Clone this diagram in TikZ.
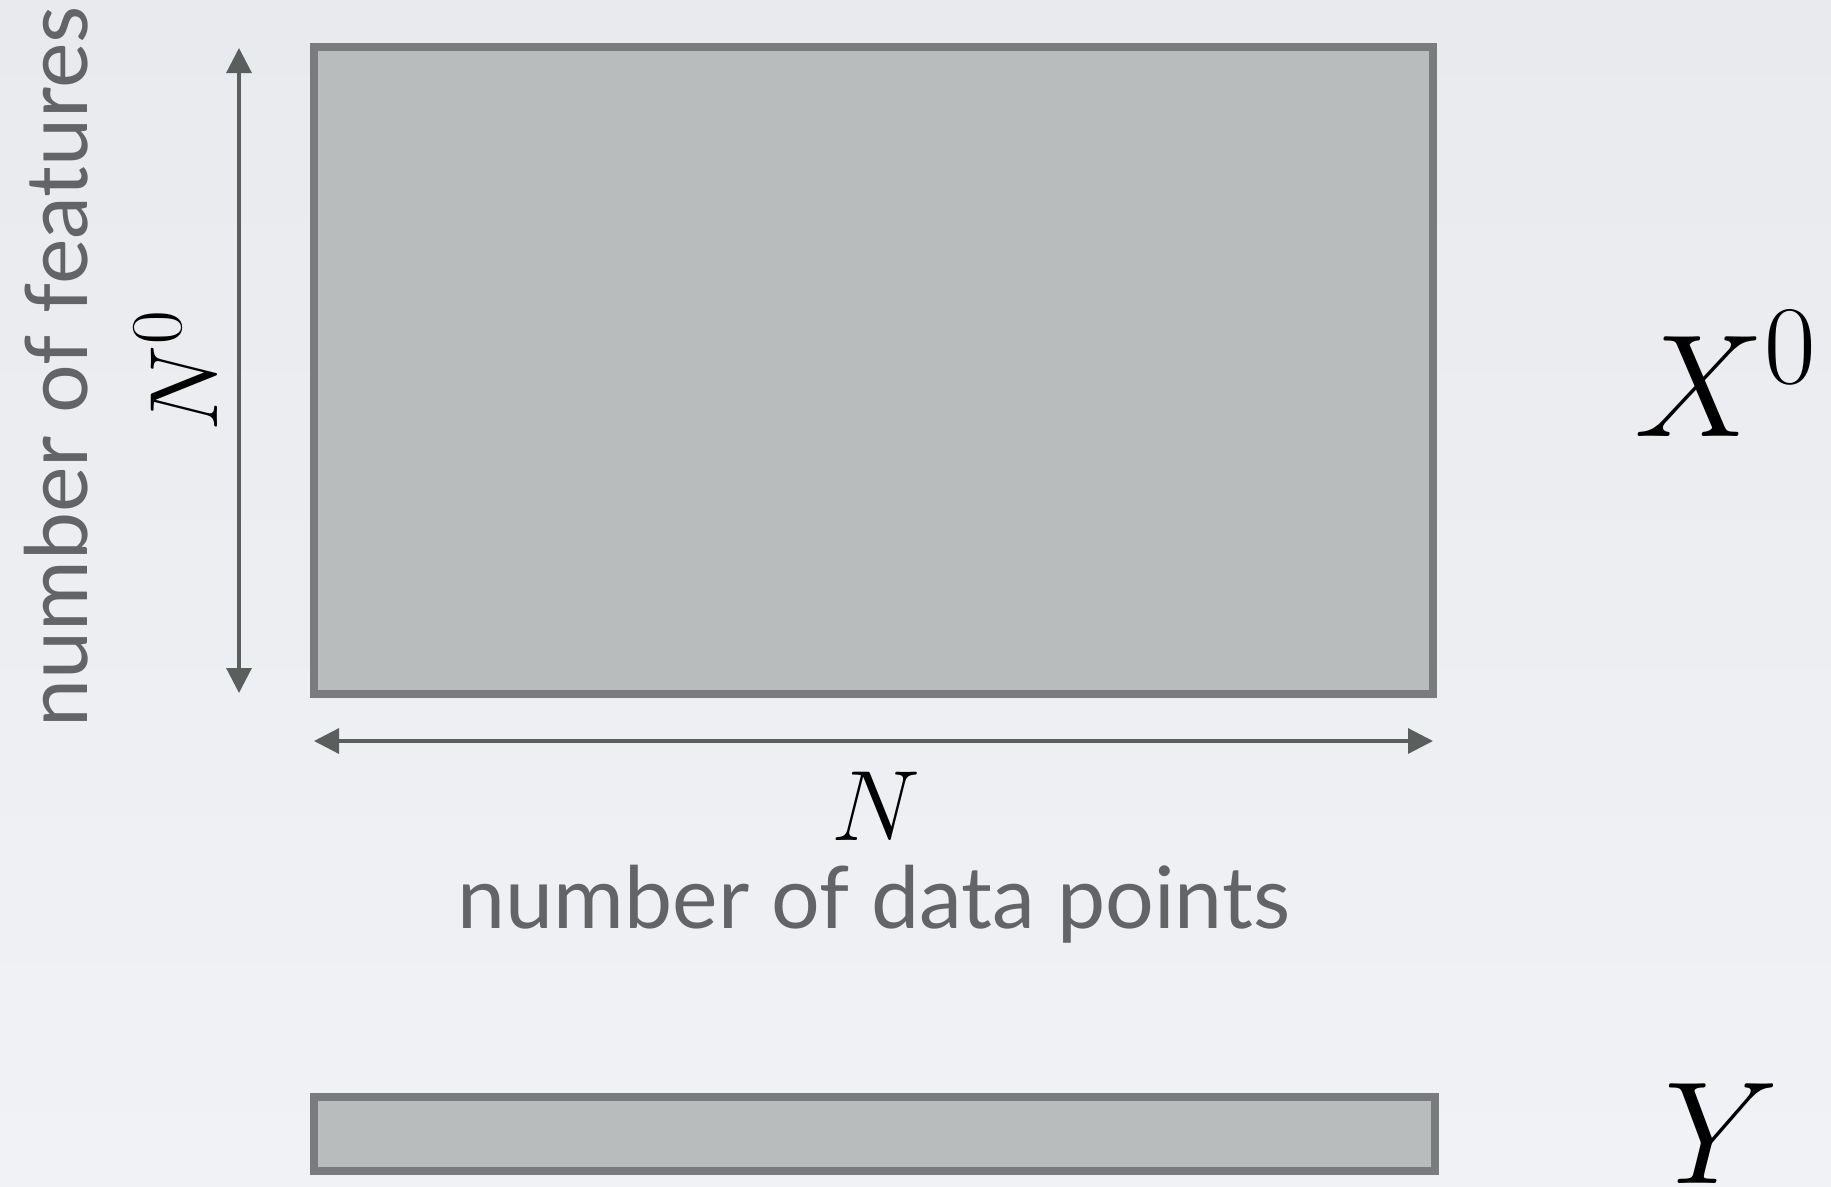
\RequirePackage{fix-cm}
\documentclass[tikz,border=0pt]{standalone}
\usepackage{fontspec}
\setmainfont{Lato}
\usetikzlibrary{arrows.meta}
\DeclareMathSizes{146}{146}{112}{80}
\DeclareMathSizes{97}{97}{73}{55}
\DeclareMathSizes{100}{100}{75}{55}
\definecolor{bgtop}{HTML}{E8EAEE}
\definecolor{bgbot}{HTML}{F1F2F5}
\definecolor{matfill}{HTML}{B8BCBD}
\definecolor{matline}{HTML}{7A7B7D}
\definecolor{dimgray}{HTML}{5A5E5D}
\definecolor{txtgray}{HTML}{636466}
\tikzset{
  matrixbox/.style={draw=matline, fill=matfill, line width=8pt, inner sep=0pt, outer sep=0pt},
  dimarrow/.style={draw=dimgray, line width=3.2pt, {Triangle[length=25pt,width=25pt]}-{Triangle[length=25pt,width=25pt]}},
  wordlabel/.style={text=txtgray, inner sep=0pt, font=\fontsize{86}{100}\selectfont},
  mathlabel/.style={text=black, inner sep=0pt},
}
\begin{document}
\begin{tikzpicture}[x=1pt,y=-1pt]
\useasboundingbox (0,0) rectangle (1831,1186);
\shade[top color=bgtop, bottom color=bgbot] (0,0) rectangle (1831,1186);

\node[matrixbox, minimum width=1119.5pt, minimum height=647.5pt] (X) at (873.25,370.25) {};
\node[matrixbox, minimum width=1121pt, minimum height=74pt] (Yb) at (874.25,1134) {};

\coordinate (vtop) at (239,48);
\coordinate (vbot) at (239,693);
\coordinate (hl) at (314,741);
\coordinate (hr) at (1433,741);
\draw[dimarrow] (vtop) -- (vbot);
\draw[dimarrow] (hl) -- (hr);

\node[wordlabel, anchor=base, rotate=90] (feat) at (87,367) {number of features};
\node[wordlabel, anchor=base] (pts) at (874,928) {number of data points};

\node[mathlabel, anchor=base, font=\fontsize{100}{110}\selectfont] (Nlab) at (876,840) {$N$};
\node[mathlabel, anchor=base, rotate=90, font=\fontsize{97}{110}\selectfont] (N0lab) at (217,371) {$N^0$};
\node[mathlabel, anchor=base, font=\fontsize{146}{160}\selectfont] (Xlab) at (1725,436) {$X^0$};
\node[mathlabel, anchor=base, font=\fontsize{146}{160}\selectfont] (Ylab) at (1722,1183) {$Y$};
\end{tikzpicture}
\end{document}
